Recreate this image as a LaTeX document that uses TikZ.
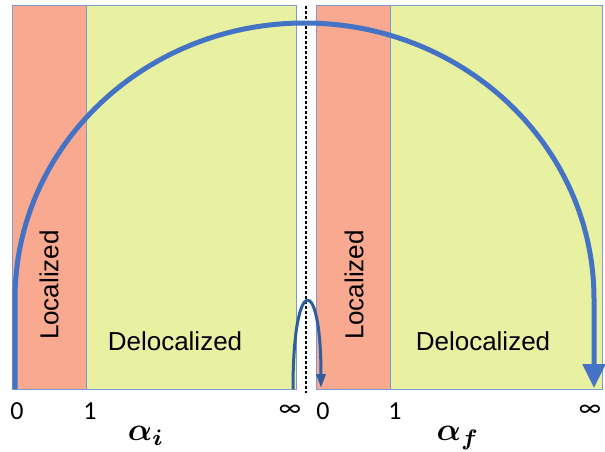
\documentclass[tikz,border=0pt]{standalone}
\usepackage{amsmath,bm}
\usepackage{fontspec}
\setmainfont{Liberation Sans}
\newfontfamily\numfont{Carlito}
\usetikzlibrary{arrows.meta}
\definecolor{locred}{HTML}{F9A990}
\definecolor{delgreen}{HTML}{E8F0A2}
\definecolor{edgeblue}{HTML}{7A9AD0}
\definecolor{arcblue}{HTML}{4472C4}
\definecolor{smallblue}{HTML}{2E5E9E}
\tikzset{
  locbox/.style={fill=locred,draw=edgeblue,line width=1pt},
  delbox/.style={fill=delgreen,draw=edgeblue,line width=1pt},
  regionlabel/.style={font=\fontsize{26}{30}\selectfont,inner sep=0pt},
  ticklabel/.style={font=\numfont\fontsize{26}{30}\selectfont,inner sep=0pt},
  axislabel/.style={inner sep=0pt,scale=3.2},
  bigarc/.style={draw=arcblue,line width=5pt,-{Triangle[length=24pt,width=22pt]}},
  smallarc/.style={draw=smallblue,line width=3pt,-{Triangle[length=14pt,width=9pt]}},
  divider/.style={draw=black,line width=1.5pt,dash pattern=on 3pt off 2pt}
}
\begin{document}
\begin{tikzpicture}[x=1pt,y=1pt]
\useasboundingbox (0,0) rectangle (605,451);
% panels
\draw[delbox] (86,62) rectangle (296,445);
\draw[locbox] (12,62) rectangle (86,445);
\draw[delbox] (390,62) rectangle (602,445);
\draw[locbox] (316,62) rectangle (390,445);
% divider
\coordinate (dtop) at (306,445);
\coordinate (dbot) at (306,58);
\draw[divider] (dtop) -- (dbot);
% labels
\node[regionlabel,rotate=90] (loc1) at (49,166) {Localized};
\node[regionlabel] (del1) at (175,110) {Delocalized};
\node[regionlabel,rotate=90] (loc2) at (354,166) {Localized};
\node[regionlabel] (del2) at (483,110) {Delocalized};
% arcs
\coordinate (bstart) at (15,62);
\coordinate (bend) at (594,63);
\draw[bigarc] (bstart) -- (15,152) arc[start angle=180,end angle=0,x radius=289.5,y radius=276] -- (bend);
\coordinate (sstart) at (293,62);
\coordinate (send) at (321,63);
\draw[smallarc] (sstart) .. controls (293,178) and (321,178) .. (send);
% ticks
\node[ticklabel] (t0a) at (17,40) {0};
\node[ticklabel] (t1a) at (90,40) {1};
\node[ticklabel] (tia) at (290,40) {∞};
\node[ticklabel] (t0b) at (323,40) {0};
\node[ticklabel] (t1b) at (395,40) {1};
\node[ticklabel] (tib) at (590,40) {∞};
\node[axislabel] (ai) at (146,15) {$\bm{\alpha}_{\bm{i}}$};
\node[axislabel] (af) at (458,13) {$\bm{\alpha}_{\bm{f}}$};
\end{tikzpicture}
\end{document}
